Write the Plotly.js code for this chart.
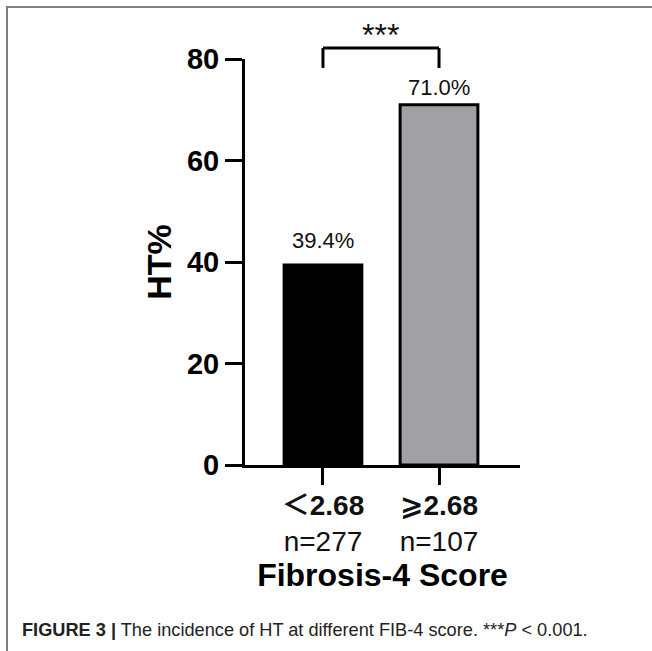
<!DOCTYPE html>
<html>
<head>
<meta charset="utf-8">
<script src="https://cdn.plot.ly/plotly-3.0.1.min.js"></script>
<style>
  html, body { margin: 0; padding: 0; background: #ffffff; }
  #wrap { position: relative; width: 652px; height: 651px; overflow: hidden; }
  #chart { position: absolute; left: 0; top: 0; width: 652px; height: 651px; }
  #frame { position: absolute; left: 6px; top: 6px; width: 646px; height: 645px;
           border-top: 2px solid #808080; border-left: 2px solid #808080; pointer-events: none; box-sizing: border-box; }
  #caption { position: absolute; left: 22px; top: 621px; font-family: "Liberation Sans", Arial, sans-serif;
             font-size: 18.2px; line-height: 18px; color: #222; white-space: nowrap; }
</style>
</head>
<body>
<div id="wrap">
  <div id="chart"></div>
  <div id="frame"></div>
  <div id="caption"><b>FIGURE 3 |</b> The incidence of HT at different FIB-4 score. ***<i>P</i> &lt; 0.001.</div>
</div>
<script>
// ---- data ----
const categories = ['＜2.68', '⩾2.68'];
const sampleSizes = ['n=277', 'n=107'];
const htPercent = [39.4, 71.0];
const yTickValues = [0, 20, 40, 60, 80];
const significance = '***';
const xAxisTitle = 'Fibrosis-4 Score';
const yAxisTitle = 'HT%';

// ---- styles ----
const barColors = ['#000000', '#a1a0a5'];
const labelShift = [25, 17];
const FONT = '"Liberation Sans", Arial, "Noto Sans CJK SC", "DejaVu Sans", sans-serif';

const bar = {
  type: 'bar',
  x: categories,
  y: htPercent,
  width: 0.67,
  marker: { color: barColors, line: { color: '#000000', width: 3 } },
  hoverinfo: 'none'
};

// two-line tick labels: bold category, then the sample size
const tickText = categories.map((c, i) => '<b>' + c + '</b><br>' + sampleSizes[i]);

const annotations = [];
categories.forEach((c, i) => {
  annotations.push({
    xref: 'x', yref: 'y', x: c, y: htPercent[i],
    yanchor: 'middle', yshift: labelShift[i], showarrow: false,
    text: htPercent[i].toFixed(1) + '%',
    font: { family: FONT, size: 22, color: '#111' }
  });
});
annotations.push({
  xref: 'x', yref: 'paper', x: 0.5, y: 1,
  yanchor: 'middle', yshift: 24, showarrow: false,
  text: significance,
  font: { family: FONT, size: 32, color: '#111' }
});

const i0 = 0, i1 = categories.length - 1;
const bracketLow = 0.978, bracketHigh = 1.027;
const lineStyle = { color: '#000000', width: 3 };
const shapes = [
  { type: 'line', xref: 'x', yref: 'paper', x0: i0, x1: i0, y0: bracketLow, y1: bracketHigh, line: lineStyle },
  { type: 'line', xref: 'x', yref: 'paper', x0: i0, x1: i1, y0: bracketHigh, y1: bracketHigh, line: lineStyle },
  { type: 'line', xref: 'x', yref: 'paper', x0: i1, x1: i1, y0: bracketLow, y1: bracketHigh, line: lineStyle }
];

const layout = {
  width: 652, height: 651,
  margin: { l: 245, r: 132, t: 59, b: 186, pad: 0 },
  paper_bgcolor: '#ffffff', plot_bgcolor: '#ffffff',
  showlegend: false,
  font: { family: FONT, color: '#000' },
  xaxis: {
    type: 'category',
    range: [-0.672, 1.698],
    tickmode: 'array', tickvals: categories, ticktext: tickText,
    ticklabelstandoff: -4,
    showline: true, linewidth: 3, linecolor: '#000',
    ticks: 'outside', ticklen: 17, tickwidth: 3, tickcolor: '#000',
    tickfont: { family: FONT, size: 28, color: '#111' },
    showgrid: false, zeroline: false,
    title: { text: xAxisTitle, font: { family: FONT, size: 32, weight: 'bold', color: '#000' }, standoff: 8 }
  },
  yaxis: {
    range: [0, 80],
    tickmode: 'array', tickvals: yTickValues,
    showline: true, linewidth: 3, linecolor: '#000',
    ticks: 'outside', ticklen: 17, tickwidth: 3, tickcolor: '#000',
    tickfont: { family: FONT, size: 29, weight: 'bold', color: '#000' },
    showgrid: false, zeroline: false,
    title: { text: yAxisTitle, font: { family: FONT, size: 34, weight: 'bold', color: '#000' }, standoff: 6 }
  },
  annotations: annotations,
  shapes: shapes
};

Plotly.newPlot('chart', [bar], layout, { staticPlot: true, displayModeBar: false });
</script>
</body>
</html>
